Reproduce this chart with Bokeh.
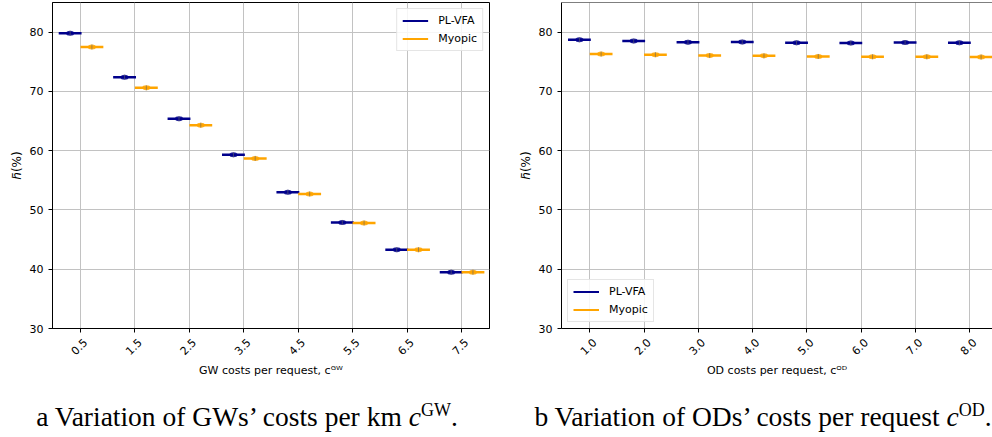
import numpy as np
from bokeh.plotting import figure
from bokeh.models import (FixedTicker, Range1d, Legend, LegendItem, Div, Span,
                          ColumnDataSource, LinearAxis)
from bokeh.layouts import row, column
from bokeh.embed import file_html
from bokeh.resources import INLINE

# ---------------- data ----------------
gw_costs = ["0.5", "1.5", "2.5", "3.5", "4.5", "5.5", "6.5", "7.5"]
gw_plvfa = [79.8, 72.4, 65.4, 59.3, 53.0, 47.9, 43.3, 39.5]
gw_myopic = [77.5, 70.6, 64.3, 58.7, 52.7, 47.8, 43.3, 39.5]

od_costs = ["1.0", "2.0", "3.0", "4.0", "5.0", "6.0", "7.0", "8.0"]
od_plvfa = [78.7, 78.5, 78.3, 78.35, 78.2, 78.15, 78.25, 78.2]
od_myopic = [76.3, 76.2, 76.05, 76.0, 75.9, 75.85, 75.85, 75.8]

y_ticks = [30, 40, 50, 60, 70, 80]
series_names = ["PL-VFA", "Myopic"]

# ---------------- styles ----------------
C_PL = "#00008b"
C_MY = "#ffa500"
FONT = "DejaVu Sans"
GRID = "#c2c2c2"
LABEL_SHIFT = 0.09   # rotated tick labels are centred on the tick (matplotlib style)


def style_axis(ax):
    ax.axis_line_color = "black"
    ax.major_tick_line_color = "black"
    ax.major_tick_out = 4
    ax.major_tick_in = 0
    ax.minor_tick_line_color = None
    ax.major_label_text_font = FONT
    ax.major_label_text_font_size = "11px"
    ax.major_label_text_color = "black"
    ax.axis_label_text_font = FONT
    ax.axis_label_text_font_size = "11px"
    ax.axis_label_text_font_style = "normal"
    ax.axis_label_text_color = "black"


def make_panel(costs, pl, my, xlabel, xr, min_left, min_right, frame_w, legend_loc, full_outline):
    idx = np.arange(len(costs))
    p = figure(frame_width=frame_w, frame_height=326,
               x_range=Range1d(*xr), y_range=Range1d(30, 85),
               output_backend="svg", toolbar_location=None,
               x_axis_location=None,
               min_border_left=min_left, min_border_right=min_right,
               min_border_top=0, min_border_bottom=0)
    p.background_fill_color = "white"
    p.border_fill_color = "white"
    if full_outline:
        p.outline_line_color = "black"
        p.outline_line_width = 1
    else:
        p.outline_line_color = None
        p.add_layout(Span(location=85, dimension="width", line_color="black", line_width=1))

    # x axis: tick marks (minor ticks) on the categories, rotated labels centred on them
    lab_pos = [float(i) + LABEL_SHIFT for i in idx]
    ax = LinearAxis(ticker=FixedTicker(ticks=lab_pos, minor_ticks=[float(i) for i in idx]))
    style_axis(ax)
    ax.major_tick_line_color = None
    ax.major_tick_out = 0
    ax.minor_tick_line_color = "black"
    ax.minor_tick_out = 4
    ax.minor_tick_in = 0
    ax.major_label_overrides = {t: c for t, c in zip(lab_pos, costs)}
    ax.major_label_orientation = np.pi / 4
    ax.major_label_standoff = 8
    ax.axis_label = xlabel
    ax.axis_label_standoff = 2
    p.add_layout(ax, "below")

    # y axis
    p.yaxis.ticker = FixedTicker(ticks=y_ticks)
    style_axis(p.yaxis[0])
    p.yaxis.axis_label = "\u210e\u0304(%)"
    p.yaxis.axis_label_text_font_size = "12px"
    p.yaxis.major_label_standoff = 5
    p.yaxis.axis_label_standoff = 3

    # grid
    p.xgrid.ticker = FixedTicker(ticks=list(idx))
    p.ygrid.ticker = FixedTicker(ticks=y_ticks)
    for g in (p.xgrid[0], p.ygrid[0]):
        g.grid_line_color = GRID
        g.grid_line_width = 1

    # violins (flat)
    renderers = []
    for vals, off, col in ((pl, -0.19, C_PL), (my, 0.21, C_MY)):
        src = ColumnDataSource(dict(x=idx + off, y=vals))
        p.rect("x", "y", width=0.42, height=2.5, height_units="screen", source=src,
               fill_color=col, line_color=None)
        p.ellipse("x", "y", width=0.15, height=5, height_units="screen", source=src,
                  fill_color=col, fill_alpha=0.85, line_color=None)
        p.scatter("x", "y", marker="dash", angle=np.pi / 2, size=5, source=src,
                  line_color="#666666", line_alpha=0.6, line_width=1)
        lr = p.line(x=[np.nan], y=[np.nan], line_color=col, line_width=2)
        renderers.append(lr)

    legend = Legend(items=[LegendItem(label=n, renderers=[r]) for n, r in zip(series_names, renderers)],
                    location=legend_loc)
    legend.label_text_font = FONT
    legend.label_text_font_size = "11px"
    legend.label_text_color = "black"
    legend.glyph_width = 26
    legend.glyph_height = 13
    legend.label_height = 13
    legend.label_standoff = 10
    legend.spacing = 5
    legend.padding = 5
    legend.margin = 6
    legend.border_line_color = "#cccccc"
    legend.border_line_width = 1
    legend.background_fill_alpha = 0.85
    p.add_layout(legend)
    return p


p1 = make_panel(gw_costs, gw_plvfa, gw_myopic, "GW costs per request, c\u1d33\u1d42",
                (-0.514, 7.514), 52, 11, 437, "top_right", True)
p2 = make_panel(od_costs, od_plvfa, od_myopic, "OD costs per request, c\u1d3c\u1d30",
                (-0.52, 7.42), 61, 0, 431, "bottom_left", False)

caption_html = (
    "<div style=\"position:relative;width:984px;height:50px;font-family:'Liberation Serif',serif;"
    "font-size:27.5px;line-height:1;color:black;white-space:nowrap;\">"
    "<div style=\"position:absolute;left:7px;top:22px;width:480px;text-align:center;\">"
    "a Variation of GWs\u2019 costs per km <i>c</i><sup style=\"font-size:18px;\">GW</sup>.</div>"
    "<div style=\"position:absolute;left:523px;top:22px;width:480px;text-align:center;\">"
    "b Variation of ODs\u2019 costs per request <i>c</i><sup style=\"font-size:18px;\">OD</sup>.</div>"
    "</div>"
)
cap = Div(text=caption_html, width=984, height=50, margin=0)

layout = column(row(p1, p2, margin=0), cap, margin=(2, 0, 0, 0))

open("out.html", "w").write(file_html(layout, INLINE))
